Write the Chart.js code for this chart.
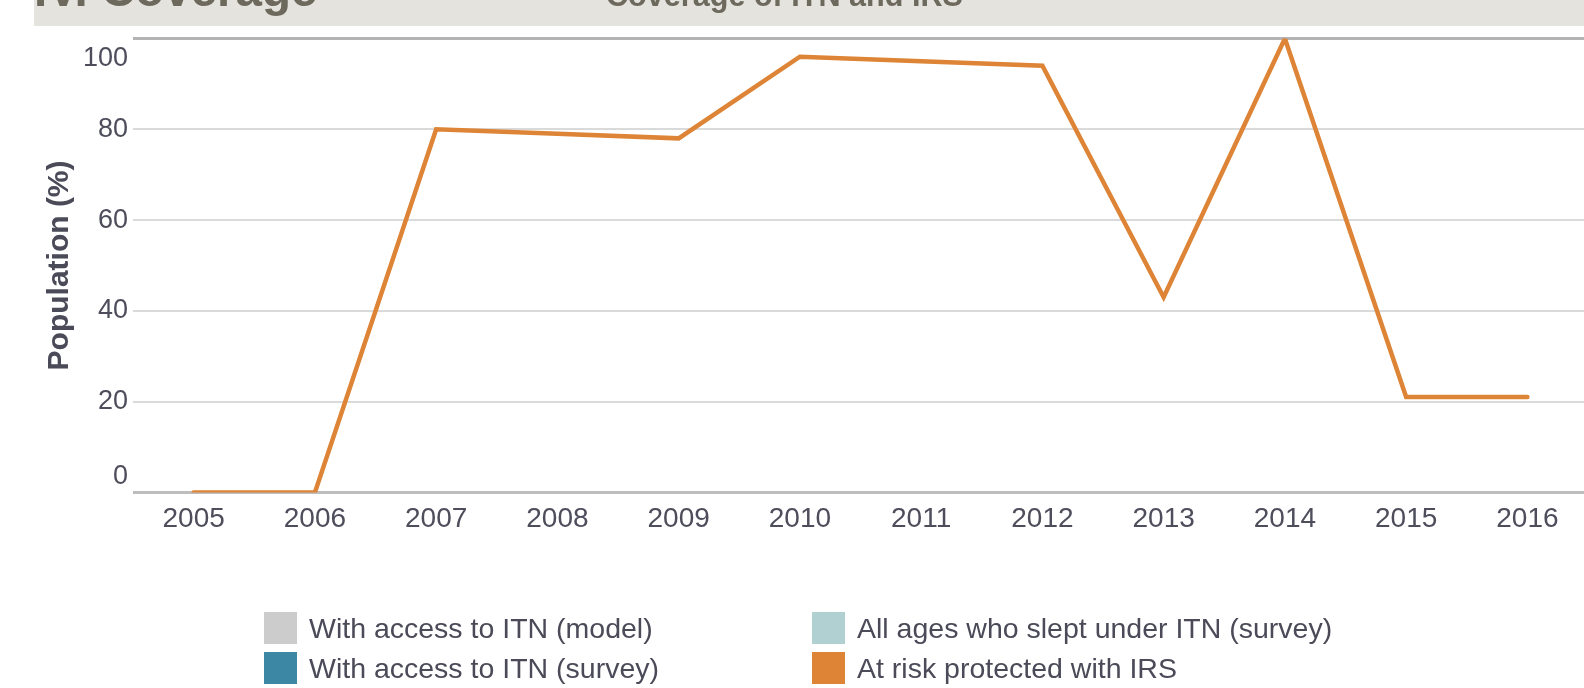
<!DOCTYPE html>
<html>
<head>
<meta charset="utf-8">
<script src="https://cdn.jsdelivr.net/npm/chart.js@4"></script>
<style>
  html, body { margin: 0; padding: 0; background: #fff; overflow: hidden; width: 1584px; height: 688px; }
  body { position: relative; font-family: "Liberation Sans", Arial, sans-serif; }
  #chartWrap { position: absolute; left: 0; top: 0; width: 1590px; height: 553px; }
  #header { position: absolute; left: 34px; top: 0; width: 1550px; height: 26px; background: #e4e3de; overflow: hidden; z-index: 2; }
  #header span { position: absolute; white-space: nowrap; font-weight: bold; color: #6d6a5d; line-height: 1; }
  #legend { position: absolute; left: 0; top: 0; width: 1584px; height: 688px; pointer-events: none; }
  .item { position: absolute; height: 32px; display: flex; align-items: center; }
  .swatch { width: 33px; height: 32px; margin-right: 12px; }
  .label { font-size: 28.5px; color: #4a4a58; white-space: nowrap; }
</style>
</head>
<body>
<div id="chartWrap"><canvas id="coverageChart"></canvas></div>
<div id="header">
  <span style="left: 0px; top: -34px; font-size: 47.5px;">IV. Coverage</span>
  <span style="left: 572px; top: -20px; font-size: 30.6px;">Coverage of ITN and IRS</span>
</div>
<div id="legend"></div>

<script>
// =====================
// Data
// =====================
const years = ["2005","2006","2007","2008","2009","2010","2011","2012","2013","2014","2015","2016"];

const itnModel = [];        // With access to ITN (model) - no values shown
const itnSurvey = [];       // With access to ITN (survey) - no values shown
const sleptUnderItn = [];   // All ages who slept under ITN (survey) - no values shown
const irsProtected = [0, 0, 80, 79, 78, 96, 95, 94, 43, 100, 21, 21];

const seriesNames = [
    "With access to ITN (model)",
    "With access to ITN (survey)",
    "All ages who slept under ITN (survey)",
    "At risk protected with IRS"
];
const seriesColors = ["#cccccc", "#3b87a4", "#b1d0d2", "#dd8436"];

const yTicks = [0, 20, 40, 60, 80, 100];

const tickColor = "#4d4d5b";
const fontFamily = "'Liberation Sans', Arial, sans-serif";


// ==========
// The chart
// ==========
const canvas = document.getElementById("coverageChart");

const coverageChart = new Chart(canvas, {
    type: "line",
    data: {
        labels: years,
        datasets: [itnModel, itnSurvey, sleptUnderItn, irsProtected].map((d, i) => ({
            label: seriesNames[i],
            data: d,
            borderColor: seriesColors[i],
            backgroundColor: seriesColors[i],
            borderWidth: 4.5,
            borderJoinStyle: "miter",
            borderCapStyle: "round",
            pointRadius: 0,
            tension: 0,
            fill: false
        }))
    },
    options: {
        responsive: true,
        maintainAspectRatio: false,
        animation: false,
        layout: {
            padding: { top: 38.5, left: 43, right: 2, bottom: 7 }
        },
        plugins: {
            legend: { display: false },
            tooltip: { enabled: false }
        },
        scales: {
            x: {
                offset: true,
                grid: { display: false, drawTicks: false },
                border: { display: false },
                ticks: {
                    color: tickColor,
                    padding: 10,
                    maxRotation: 0,
                    autoSkip: false,
                    font: { family: fontFamily, size: 28 }
                }
            },
            y: {
                min: 0,
                max: 100,
                afterBuildTicks: scale => {
                    scale.ticks = yTicks.map(v => ({ value: v }));
                },
                // end labels hang inside the plot; don't let them push the plot area
                afterFit: scale => {
                    scale.paddingTop = 0;
                    scale.paddingBottom = 0;
                },
                grid: {
                    drawTicks: false,
                    color: ctx => ctx.tick.value === 100 ? "#b4b4b4" : (ctx.tick.value === 0 ? "#bdbdbd" : "#dadada"),
                    lineWidth: ctx => (ctx.tick.value === 100 || ctx.tick.value === 0) ? 3 : 2
                },
                border: { display: false },
                ticks: {
                    color: tickColor,
                    padding: 5,
                    font: ctx => ({
                        family: fontFamily,
                        size: 27,
                        lineHeight: ctx.tick && ctx.tick.value === 100 ? 1.45 : 1.19
                    }),
                    callback: v => v === 100 ? ["", "100"] : (v === 0 ? ["0", ""] : String(v))
                },
                title: {
                    display: true,
                    text: "Population (%)",
                    color: "#4a4a58",
                    padding: { top: 0, bottom: 2 },
                    font: { family: fontFamily, size: 30, weight: "bold", lineHeight: 1.1 }
                }
            }
        }
    }
});


// =====================================
// Legend in two columns, from datasets
// =====================================
const legendSpots = [
    { left: 264, top: 612 },
    { left: 264, top: 652 },
    { left: 812, top: 612 },
    { left: 812, top: 652 }
];

const legendBox = document.getElementById("legend");
coverageChart.data.datasets.forEach((ds, i) => {
    const item = document.createElement("div");
    item.className = "item";
    item.style.left = legendSpots[i].left + "px";
    item.style.top = legendSpots[i].top + "px";
    item.innerHTML = `<div class="swatch" style="background:${ds.borderColor}"></div><span class="label">${ds.label}</span>`;
    legendBox.appendChild(item);
});
</script>
</body>
</html>
